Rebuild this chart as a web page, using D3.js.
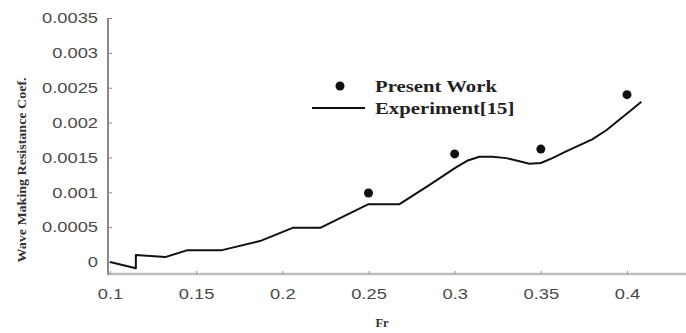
<!DOCTYPE html>
<html>
<head>
<meta charset="utf-8">
<script src="https://cdn.jsdelivr.net/npm/d3@7"></script>
<style>
  body { margin: 0; background: #fff; }
  svg { display: block; }
</style>
</head>
<body>
<div id="container"></div>
<script>
var width = 686,
    height = 333;

// Present Work (dots)
var presentFr = [0.25, 0.3, 0.35, 0.4];
var presentCw = [0.00099, 0.00155, 0.00162, 0.0024];

// Experiment[15] (line)
var expFr = [0.1, 0.115, 0.115, 0.132, 0.145, 0.165, 0.187, 0.206, 0.222, 0.25, 0.268,
             0.285, 0.301, 0.308, 0.3144, 0.3219, 0.33, 0.337, 0.3434, 0.35, 0.3567,
             0.365, 0.3798, 0.388, 0.3955, 0.402, 0.4083];
var expCw = [0.0, -0.00009, 0.0001, 0.00007, 0.00017, 0.00017, 0.0003, 0.00049, 0.00049, 0.00083, 0.00083,
             0.0011, 0.00136, 0.00146, 0.00151, 0.00151, 0.00149, 0.00145, 0.00141, 0.00142, 0.00149,
             0.00159, 0.00176, 0.00189, 0.00204, 0.00217, 0.0023];

var xTicks = [0.1, 0.15, 0.2, 0.25, 0.3, 0.35, 0.4];
var yTicks = [0, 0.0005, 0.001, 0.0015, 0.002, 0.0025, 0.003, 0.0035];

var x = d3.scaleLinear().domain([0.1, 0.4]).range([110, 627]);
var y = d3.scaleLinear().domain([0, 0.0035]).range([262, 18]);

var svg = d3.select("#container").append("svg")
    .attr("width", width)
    .attr("height", height);

// stretch text a little wider, the picture is squeezed horizontally
function stretch(sel, k) {
  sel.each(function() {
    var w = this.getComputedTextLength();
    d3.select(this).attr("textLength", w * k).attr("lengthAdjust", "spacingAndGlyphs");
  });
}

// axes
var xAxis = d3.axisBottom(x)
    .tickValues(xTicks)
    .tickFormat(d3.format(""))
    .tickSizeInner(-3)
    .tickSizeOuter(0)
    .tickPadding(14);

var yAxis = d3.axisLeft(y)
    .tickValues(yTicks)
    .tickFormat(function(d) { return d === 0 ? "0" : d3.format(".4~f")(d); })
    .tickSizeInner(-4)
    .tickSizeOuter(0)
    .tickPadding(10);

var gx = svg.append("g")
    .attr("transform", "translate(0,274)")
    .call(xAxis);
gx.select(".domain").attr("d", "M108,0H686").attr("stroke", "#bbb").attr("stroke-width", 2.5);
gx.selectAll(".tick line").attr("stroke", "#999");
gx.selectAll("text")
    .attr("fill", "#4a4a4a")
    .style("font-family", "Liberation Sans, Arial, sans-serif")
    .style("font-size", "15px")
    .call(stretch, 1.22);

var gy = svg.append("g")
    .attr("transform", "translate(108,0)")
    .call(yAxis);
gy.select(".domain").attr("d", "M0,18V275").attr("stroke", "#888").attr("stroke-width", 2);
gy.selectAll(".tick line").attr("stroke", "#888");
gy.selectAll("text")
    .attr("fill", "#4a4a4a")
    .style("font-family", "Liberation Sans, Arial, sans-serif")
    .style("font-size", "15px")
    .call(stretch, 1.22);

// axis titles
svg.append("text")
    .attr("x", 382)
    .attr("y", 327)
    .attr("text-anchor", "middle")
    .style("font-family", "Liberation Serif, Times New Roman, serif")
    .style("font-weight", "bold")
    .style("font-size", "12.5px")
    .attr("fill", "#333")
    .text("Fr");

svg.append("text")
    .attr("transform", "translate(26,170) rotate(-90)")
    .attr("text-anchor", "middle")
    .style("font-family", "Liberation Serif, Times New Roman, serif")
    .style("font-weight", "bold")
    .style("font-size", "12.5px")
    .attr("fill", "#333")
    .text("Wave Making Resistance Coef.")
    .call(stretch, 1.12);

// experiment line
var expData = expFr.map(function(d, i) { return [d, expCw[i]]; });
var line = d3.line()
    .x(function(d) { return x(d[0]); })
    .y(function(d) { return y(d[1]); });

svg.append("path")
    .datum(expData)
    .attr("d", line)
    .attr("fill", "none")
    .attr("stroke", "#111")
    .attr("stroke-width", 2)
    .attr("stroke-linejoin", "round");

// present work dots
svg.selectAll("circle.pw")
    .data(presentFr)
    .join("circle")
    .attr("class", "pw")
    .attr("cx", function(d) { return x(d); })
    .attr("cy", function(d, i) { return y(presentCw[i]); })
    .attr("r", 4.5)
    .attr("fill", "#111");

// legend
var lg = svg.append("g");
lg.append("circle").attr("cx", 340).attr("cy", 86).attr("r", 4.5).attr("fill", "#111");
lg.append("line").attr("x1", 312).attr("x2", 365).attr("y1", 108).attr("y2", 108)
    .attr("stroke", "#111").attr("stroke-width", 2);
lg.selectAll("text")
    .data(["Present Work", "Experiment[15]"])
    .join("text")
    .attr("x", 375)
    .attr("y", function(d, i) { return 86 + i * 22; })
    .attr("dy", "0.35em")
    .style("font-family", "Liberation Serif, Times New Roman, serif")
    .style("font-weight", "bold")
    .style("font-size", "17px")
    .attr("fill", "#222")
    .text(function(d) { return d; })
    .call(stretch, 1.22);
</script>
</body>
</html>
